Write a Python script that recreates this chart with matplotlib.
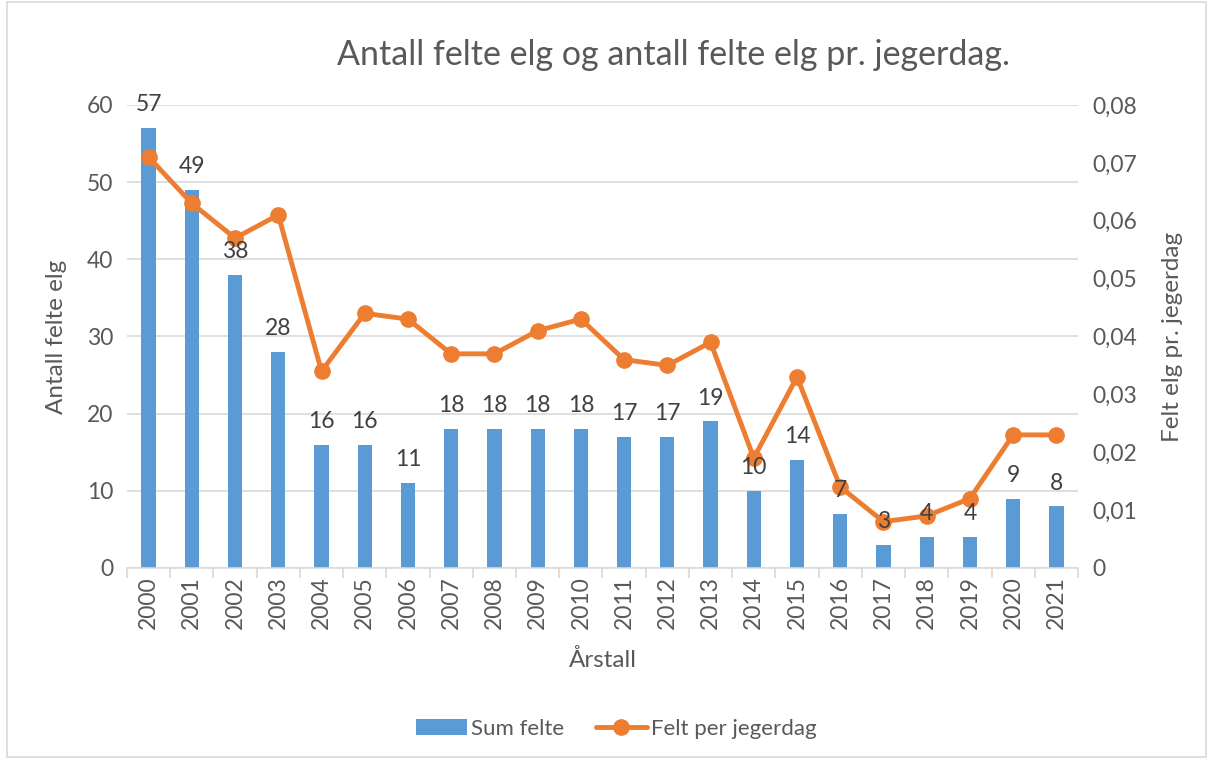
import numpy as np
import matplotlib
matplotlib.use('Agg')
from matplotlib import pyplot as plt
from matplotlib.patches import Rectangle

plt.rcParams['font.family'] = ['Lato', 'DejaVu Sans']

years = [str(y) for y in range(2000, 2022)]
sum_felte = [57, 49, 38, 28, 16, 16, 11, 18, 18, 18, 18, 17, 17, 19, 10, 14, 7, 3, 4, 4, 9, 8]
felt_per_dag = [0.071, 0.063, 0.057, 0.061, 0.034, 0.044, 0.043, 0.037, 0.037, 0.041, 0.043,
                0.036, 0.035, 0.039, 0.019, 0.033, 0.014, 0.008, 0.009, 0.012, 0.023, 0.023]

blue = '#5b9bd5'
orange = '#ed7d31'
txt = '#595959'
grid = '#d9d9d9'

fig = plt.figure(figsize=(12.13, 7.63), dpi=100)
fig.patches.append(Rectangle((0.006, 0.008), 0.988, 0.99, transform=fig.transFigure,
                             fill=False, edgecolor=grid, linewidth=1.2))

ax = fig.add_axes([0.1047, 0.2556, 0.784, 0.6068])
ax2 = ax.twinx()

x = np.arange(len(years))
bars = ax.bar(x, sum_felte, width=0.33, color=blue, zorder=2, label='Sum felte')
ax.set_ylim(0, 60)
ax.set_xlim(-0.5, len(years) - 0.5)
ax.set_yticks(range(0, 61, 10))
ax.yaxis.grid(True, color=grid, linewidth=1.2)
ax.set_axisbelow(True)

line, = ax2.plot(x, felt_per_dag, color=orange, linewidth=3.5, marker='o', markersize=11,
                 zorder=3, label='Felt per jegerdag', solid_capstyle='round')
ax2.set_ylim(0, 0.08)
ax2.set_yticks(np.arange(0, 0.081, 0.01))
ax2.set_yticklabels(['0'] + ['0,%02d' % i for i in range(1, 9)])

# data labels above bars, drawn on top of the line
for xi, v in zip(x, sum_felte):
    ax2.text(xi, v / 60 * 0.08 + 0.0022, str(v), ha='center', va='bottom',
             fontsize=16.5, color='#404040', zorder=5)

for a in (ax, ax2):
    for s in a.spines.values():
        s.set_visible(False)
    a.tick_params(axis='y', length=0, labelsize=16.5, labelcolor=txt, pad=10)

ax.spines['bottom'].set_visible(True)
ax.spines['bottom'].set_color(grid)
ax.spines['bottom'].set_linewidth(1.2)
ax.set_xticks(x)
ax.set_xticklabels(years, rotation=90, fontsize=16.5, color=txt)
ax.tick_params(axis='x', length=0, pad=6)
ax.set_xticks(np.arange(-0.5, len(years)), minor=True)
ax.tick_params(axis='x', which='minor', length=7, color=grid, width=1.2)

ax.set_ylabel('Antall felte elg', fontsize=17.5, color=txt, labelpad=14)
ax2.set_ylabel('Felt elg pr. jegerdag', fontsize=17.5, color=txt, labelpad=18)
ax.set_xlabel('Årstall', fontsize=17.5, color=txt, labelpad=14)

fig.text(0.555, 0.928, 'Antall felte elg og antall felte elg pr. jegerdag.',
         ha='center', va='center', fontsize=24.5, color=txt)

fig.legend([bars, line], ['Sum felte', 'Felt per jegerdag'], loc='center',
           bbox_to_anchor=(0.508, 0.045), ncol=2, frameon=False, fontsize=16,
           labelcolor=txt, handlelength=2.3, columnspacing=1.4, handletextpad=0.2)

fig.savefig('out.png', dpi=100)
